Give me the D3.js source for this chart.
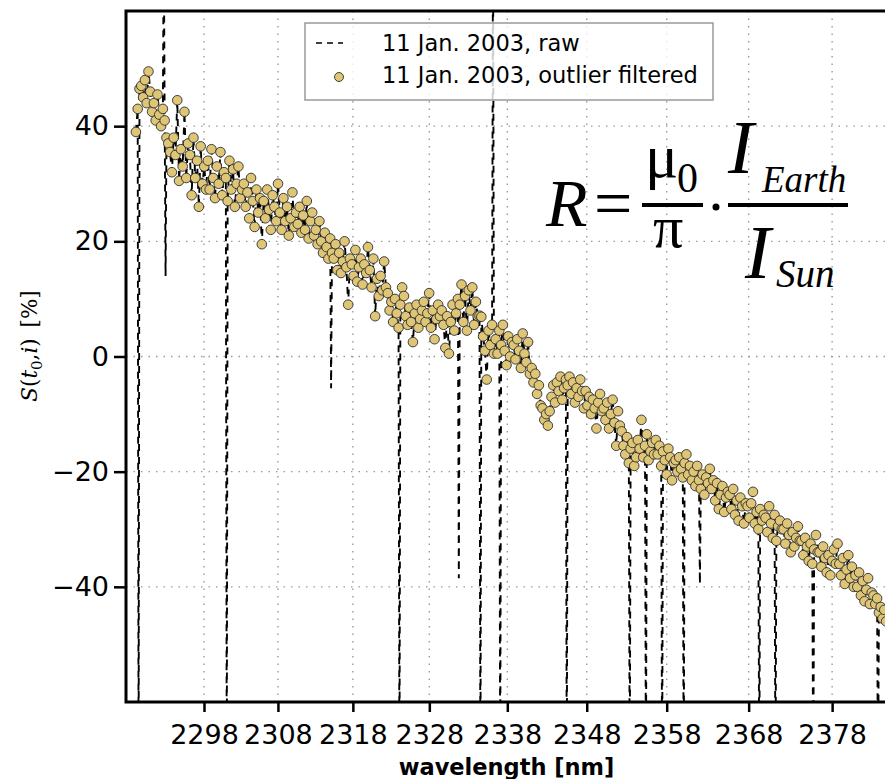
<!DOCTYPE html>
<html>
<head>
<meta charset="utf-8">
<script src="https://cdn.jsdelivr.net/npm/d3@7"></script>
<style>
  body { margin: 0; background: #fff; }
  svg { display: block; }
</style>
</head>
<body>
<div id="chart"></div>
<script>
// detector channel of each wavelength label (wavelength grid is not linear)
const tickChannels = [86.7, 168.9, 252.2, 337.2, 423.9, 512.2, 601.1, 692.2, 785];
const tickLabels = ["2298", "2308", "2318", "2328", "2338", "2348", "2358", "2368", "2378"];
const yTicks = [-40, -20, 0, 20, 40];

// outlier filtered signal, one value every second channel starting at channel 11
const firstChannel = 11;
const channelStep = 2;
const filtered = [
  39, 43, 46.5, 47, 45, 48, 44, 49.5, 46, 42.5,
  44, 41, 45.5, 42, 40, 43, 41, 38, 37, 35.5,
  32, 38, 35, 44.5, 30.5, 36, 33, 42.5, 31, 37,
  35, 28, 38, 31, 34, 26, 36.5, 30, 33, 29,
  34, 29, 36, 31, 27.5, 33, 30, 35.5, 28, 32,
  31, 27, 34, 29, 32.5, 26, 30, 33, 27.5, 29,
  30, 26, 28.5, 24, 31, 27, 22.5, 29, 25, 27.5,
  19.5, 27, 24, 29, 25.5, 22, 28, 26, 23.5, 30,
  25, 22, 27.5, 23.5, 26, 21, 24, 28.5, 22.5, 25,
  23, 26, 21.5, 24.5, 22, 27, 20.5, 23.5, 25, 21,
  22, 19.5, 23.5, 20, 18, 21.5, 19, 17, 20.5, 18,
  17, 19.5, 15, 18, 14.5, 16.5, 20, 15.5, 9, 17,
  16, 14, 18.5, 13, 15.5, 17, 12.5, 16, 14.5, 19,
  15, 12, 17, 7, 13.5, 10.5, 14, 11.5, 16.5, 12,
  11, 8, 9.5, 6, 10, 7.5, 5, 9, 12, 10.5,
  7, 5.5, 8.5, 6, 2.5, 7.5, 9, 5, 6.5, 8,
  9.5, 6, 7.5, 11, 5, 8, 3, 6.5, 9, 7,
  8, 5.5, 1.5, 7, 0.5, 6, 9, 4.5, 7.5, 10,
  9, 12.5, 6, 10.5, 4.5, 11.5, 8, 12, 5.5, 9.5,
  7, 7.1, 6.9, 3.5, 1, -4, 4.5, 2, 5.5, 0.5,
  3, 0.5, 4.5, 2, 5.5, 1, -1.5, 3.5, 0, 2.5,
  2, -0.5, 3, 1, -2, 4, 0.5, -1, 2.5, -3,
  -2, -4.5, -3, -6.5, -5, -8.5, -9, -11, -10, -12,
  -9.5, -7, -5, -8, -4.5, -6, -3.5, -7.5, -5.5, -4,
  -5, -3.5, -6.5, -4.5, -8, -5.5, -7, -4, -6, -9,
  -6, -8.5, -7, -10, -7.5, -9, -12.5, -8, -6.5, -9.5,
  -9, -11, -8, -12.5, -10, -7.5, -11.5, -15.5, -9.5, -12,
  -13, -15.5, -17, -14, -18.5, -16, -15, -19, -17.5, -14.5,
  -16, -11, -17.5, -15.5, -13.5, -18, -16.5, -15, -17, -14.5,
  -17, -15.5, -19, -16.5, -18, -20.5, -16, -17.5, -21.5, -18.5,
  -18, -20, -17.5, -19.5, -21, -18.5, -17, -20.5, -19, -21.5,
  -20, -22.5, -19, -21.5, -23, -20.5, -24, -21, -22, -19.5,
  -23, -21.5, -25, -22, -26.5, -24, -22.5, -27, -24.5, -23.5,
  -24, -26.5, -23, -27.5, -25, -28.5, -24.5, -26, -29, -25.5,
  -26, -28, -25.5, -23.5, -29, -27, -30, -26.5, -28.5, -27.5,
  -28, -30.5, -26, -29, -31.5, -27.5, -32, -29.5, -28.5, -30,
  -30, -32.5, -29, -31, -34, -30.5, -33, -31.5, -29.5, -32,
  -32, -34.5, -31.5, -33, -35.5, -32.5, -36, -33.5, -31, -34,
  -34, -36.5, -33, -35, -37.5, -34.5, -38, -35.5, -33.5, -36,
  -32.5, -36, -38, -35, -39.5, -37, -34.5, -38.5, -36.5, -40,
  -38, -40, -37.5, -41.5, -39, -42.5, -40.5, -38.5, -43, -41,
  -41.5, -43, -42, -44.5, -43.5, -45.5, -44, -46
];

// raw samples that the filter removed (channel, value)
const outlierChannels = [14, 42, 44, 112, 228, 304, 370, 394, 408, 416, 490, 560, 578, 596, 620, 638, 704, 722, 764, 836];
const outlierValues = [-75, 72, 14, -75, -5.5, -75, -38.5, -75, 75, -75, -75, -75, -75, -75, -75, -39.5, -75, -75, -75, -75];

const legendLabels = ["11 Jan. 2003, raw", "11 Jan. 2003, outlier filtered"];

const width = 885, height = 779;
const plotLeft = 126, plotRight = 887, plotTop = 11, plotBottom = 702;

const svg = d3.select("#chart").append("svg")
  .attr("width", width)
  .attr("height", height)
  .style("font-family", "'DejaVu Sans', sans-serif");

const x = d3.scaleLinear().domain([0, 846]).range([plotLeft, plotRight]);
const y = d3.scaleLinear().domain([-60, 60]).range([plotBottom, plotTop]);

const filteredPts = filtered.map((v, i) => ({ c: firstChannel + channelStep * i, v: v }));
const rawPts = filteredPts
  .concat(outlierChannels.map((c, i) => ({ c: c, v: outlierValues[i] })))
  .sort((a, b) => a.c - b.c);

svg.append("clipPath").attr("id", "plotClip")
  .append("rect")
  .attr("x", plotLeft).attr("y", plotTop)
  .attr("width", plotRight - plotLeft).attr("height", plotBottom - plotTop);

// grid
const grid = svg.append("g")
  .attr("stroke", "#9a9a9a")
  .attr("stroke-width", 1.4)
  .attr("stroke-dasharray", "1.5,6");

grid.selectAll("line.gx")
  .data(tickChannels)
  .join("line")
    .attr("class", "gx")
    .attr("x1", d => x(d)).attr("x2", d => x(d))
    .attr("y1", plotTop).attr("y2", plotBottom);

grid.selectAll("line.gy")
  .data(yTicks)
  .join("line")
    .attr("class", "gy")
    .attr("x1", plotLeft).attr("x2", plotRight)
    .attr("y1", d => y(d)).attr("y2", d => y(d));

// raw line
const line = d3.line()
  .x(d => x(d.c))
  .y(d => y(d.v));

svg.append("path")
  .datum(rawPts)
  .attr("clip-path", "url(#plotClip)")
  .attr("d", line)
  .attr("fill", "none")
  .attr("stroke", "#000")
  .attr("stroke-width", 1.9)
  .attr("stroke-dasharray", "7,6");

// filtered points
svg.append("g")
  .attr("clip-path", "url(#plotClip)")
  .selectAll("circle")
  .data(filteredPts)
  .join("circle")
    .attr("cx", d => x(d.c))
    .attr("cy", d => y(d.v))
    .attr("r", 4.8)
    .attr("fill", "#dfc676")
    .attr("stroke", "#2e2e2e")
    .attr("stroke-width", 0.9);

// frame
svg.append("path")
  .attr("d", `M${plotRight},${plotTop}H${plotLeft}V${plotBottom}H${plotRight}`)
  .attr("fill", "none")
  .attr("stroke", "#000")
  .attr("stroke-width", 3)
  .attr("stroke-linecap", "square");

// axes
const xAxis = d3.axisBottom(x)
  .tickValues(tickChannels)
  .tickFormat((d, i) => tickLabels[i])
  .tickSize(10)
  .tickPadding(13);

svg.append("g")
  .attr("transform", "translate(0," + plotBottom + ")")
  .call(xAxis)
  .call(g => g.select(".domain").remove())
  .call(g => g.selectAll(".tick line").attr("stroke-width", 2.5))
  .call(g => g.selectAll(".tick text")
    .style("font-size", "27px")
    .style("font-family", "'DejaVu Sans', sans-serif"));

const yAxis = d3.axisLeft(y)
  .tickValues(yTicks)
  .tickFormat(d => d < 0 ? "\u2212" + Math.abs(d) : d)
  .tickSize(12)
  .tickPadding(5);

svg.append("g")
  .attr("transform", "translate(" + plotLeft + ",0)")
  .call(yAxis)
  .call(g => g.select(".domain").remove())
  .call(g => g.selectAll(".tick line").attr("stroke-width", 2.5))
  .call(g => g.selectAll(".tick text")
    .style("font-size", "27px")
    .style("font-family", "'DejaVu Sans', sans-serif"));

// axis labels
svg.append("text")
  .attr("x", (plotLeft + plotRight) / 2)
  .attr("y", 775)
  .attr("text-anchor", "middle")
  .style("font-size", "22.5px")
  .style("font-weight", "bold")
  .text("wavelength [nm]");

const yl = svg.append("text")
  .attr("transform", "translate(37,346) rotate(-90)")
  .attr("text-anchor", "middle")
  .style("font-family", "'DejaVu Serif', serif")
  .style("font-size", "21.5px");
yl.append("tspan").style("font-style", "italic").text("S");
yl.append("tspan").text("(");
yl.append("tspan").style("font-style", "italic").text("t");
yl.append("tspan").attr("dy", 5).style("font-size", "15px").text("0");
yl.append("tspan").attr("dy", -5).text(",");
yl.append("tspan").style("font-style", "italic").text("i");
yl.append("tspan").text(")\u2002[%]");

// legend
const legend = svg.append("g");
legend.append("rect")
  .attr("x", 305).attr("y", 23)
  .attr("width", 408).attr("height", 77)
  .attr("fill", "#fff")
  .attr("fill-opacity", 0.8)
  .attr("stroke", "#999")
  .attr("stroke-width", 1.5);
legend.append("line")
  .attr("x1", 316).attr("x2", 343)
  .attr("y1", 43).attr("y2", 43)
  .attr("stroke", "#000")
  .attr("stroke-width", 1.5)
  .attr("stroke-dasharray", "6,5");
legend.append("circle")
  .attr("cx", 339).attr("cy", 77)
  .attr("r", 4.5)
  .attr("fill", "#dfc676")
  .attr("stroke", "#2e2e2e")
  .attr("stroke-width", 0.9);
legend.selectAll("text")
  .data(legendLabels)
  .join("text")
    .attr("x", 382)
    .attr("y", (d, i) => 51 + i * 32)
    .style("font-size", "22.5px")
    .text(d => d);

// reflectance formula
const eq = svg.append("g")
  .style("font-family", "'Liberation Serif', serif")
  .attr("fill", "#000");
eq.append("text").attr("x", 546).attr("y", 226)
  .style("font-size", "68px").style("font-style", "italic").text("R");
eq.append("text").attr("x", 594).attr("y", 226)
  .style("font-size", "68px").text("=");
eq.append("text").attr("x", 645).attr("y", 177)
  .style("font-size", "62px").text("\u03bc");
eq.append("text").attr("x", 677).attr("y", 192)
  .style("font-size", "42px").text("0");
eq.append("text").attr("x", 653).attr("y", 247)
  .style("font-size", "60px").text("\u03c0");
eq.append("circle").attr("cx", 716).attr("cy", 207).attr("r", 3.5);
eq.append("text").attr("x", 728).attr("y", 173)
  .style("font-size", "77px").style("font-style", "italic").text("I");
eq.append("text").attr("x", 762).attr("y", 192)
  .style("font-size", "37px").style("font-style", "italic").text("Earth");
eq.append("text").attr("x", 745).attr("y", 278)
  .style("font-size", "77px").style("font-style", "italic").text("I");
eq.append("text").attr("x", 776).attr("y", 287)
  .style("font-size", "39px").style("font-style", "italic").text("Sun");
eq.append("rect").attr("x", 642).attr("y", 203).attr("width", 61).attr("height", 4);
eq.append("rect").attr("x", 728).attr("y", 203).attr("width", 120).attr("height", 4);
</script>
</body>
</html>
